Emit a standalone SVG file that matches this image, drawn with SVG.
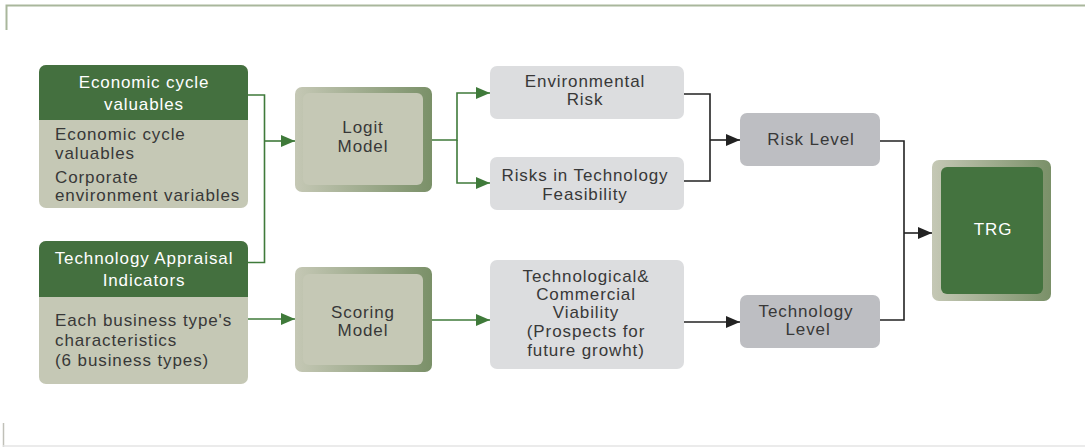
<svg xmlns="http://www.w3.org/2000/svg" width="1085" height="447" viewBox="0 0 1085 447">
<style>
text{font-family:"Liberation Sans",Arial,sans-serif;font-size:17px;letter-spacing:0.9px}
.hd{fill:#ffffff;text-anchor:middle}
.bd{fill:#383838}
.c{fill:#383838;text-anchor:middle}
.hdr{fill:#44703f}
.body{fill:#c5c8b5}
.lt{fill:#dcdddf}
.dk{fill:#bdbec2}
.g{fill:none;stroke:#3f7a3a;stroke-width:1.6}
.k{fill:none;stroke:#222;stroke-width:1.6}
</style>
<defs>
<marker id="ag" markerWidth="14" markerHeight="12" refX="14" refY="6" orient="auto" markerUnits="userSpaceOnUse"><path d="M0,0 L14,6 L0,12 Z" fill="#3f7a3a"/></marker>
<marker id="ak" markerWidth="14" markerHeight="12" refX="14" refY="6" orient="auto" markerUnits="userSpaceOnUse"><path d="M0,0 L14,6 L0,12 Z" fill="#222"/></marker>
<linearGradient id="frame" x1="0" y1="0" x2="1" y2="0"><stop offset="0" stop-color="#c5c8b5"/><stop offset="1" stop-color="#7a9068"/></linearGradient>
</defs>
<g id="frame-lines">
<path d="M6.5,30 V5.5 H1085" fill="none" stroke="#a9b79c" stroke-width="2"/>
<path d="M3.5,423 V447" fill="none" stroke="#c0c0b8" stroke-width="1.5"/>
<path d="M3,446 H1085" fill="none" stroke="#e4e4e4" stroke-width="1.5"/>
</g>
<g id="connectors">
<path class="g" d="M248,95 H264.5 V262.5 H248"/>
<path class="g" d="M264.5,141 H295" marker-end="url(#ag)"/>
<path class="g" d="M248,319 H295" marker-end="url(#ag)"/>
<path class="g" d="M432,140 H457 V93 H490" marker-end="url(#ag)"/>
<path class="g" d="M457,140 V183 H490" marker-end="url(#ag)"/>
<path class="g" d="M432,320 H490" marker-end="url(#ag)"/>
<path class="k" d="M684,94 H710 V181 H684"/>
<path class="k" d="M710,140 H740" marker-end="url(#ak)"/>
<path class="k" d="M684,322 H740" marker-end="url(#ak)"/>
<path class="k" d="M880,141 H904 V320 H880"/>
<path class="k" d="M904,233 H932" marker-end="url(#ak)"/>
</g>
<g id="economic">
<rect class="body" x="39" y="65" width="209" height="143" rx="7"/>
<path class="hdr" d="M39,120 V72 A7,7 0 0 1 46,65 H241 A7,7 0 0 1 248,72 V120 Z"/>
<text class="hd" x="144" y="88">Economic cycle</text>
<text class="hd" x="144" y="110">valuables</text>
<text class="bd" x="55" y="140">Economic cycle</text>
<text class="bd" x="55" y="159">valuables</text>
<text class="bd" x="55" y="183">Corporate</text>
<text class="bd" x="55" y="201">environment variables</text>
</g>
<g id="tech-appraisal">
<rect class="body" x="39" y="241" width="209" height="143" rx="7"/>
<path class="hdr" d="M39,297 V248 A7,7 0 0 1 46,241 H241 A7,7 0 0 1 248,248 V297 Z"/>
<text class="hd" x="144" y="264">Technology Appraisal</text>
<text class="hd" x="144" y="286">Indicators</text>
<text class="bd" x="55" y="326">Each business type's</text>
<text class="bd" x="55" y="346">characteristics</text>
<text class="bd" x="55" y="366">(6 business types)</text>
</g>
<g id="logit">
<rect x="295" y="87" width="137" height="105" rx="7" fill="url(#frame)"/>
<rect x="303" y="93" width="120" height="92" rx="6" fill="#c5c8b5"/>
<text class="c" x="363" y="133">Logit</text>
<text class="c" x="363" y="152">Model</text>
</g>
<g id="scoring">
<rect x="295" y="267" width="137" height="105" rx="7" fill="url(#frame)"/>
<rect x="303" y="274" width="120" height="91" rx="6" fill="#c5c8b5"/>
<text class="c" x="363" y="318">Scoring</text>
<text class="c" x="363" y="336">Model</text>
</g>
<g id="env-risk">
<rect class="lt" x="490" y="66" width="194" height="53" rx="7"/>
<text class="c" x="585" y="87">Environmental</text>
<text class="c" x="585" y="105">Risk</text>
</g>
<g id="tech-feasibility">
<rect class="lt" x="490" y="157" width="194" height="53" rx="7"/>
<text class="c" x="585" y="181">Risks in Technology</text>
<text class="c" x="585" y="200">Feasibility</text>
</g>
<g id="viability">
<rect class="lt" x="490" y="260" width="194" height="109" rx="7"/>
<text class="c" x="586" y="282">Technological&amp;</text>
<text class="c" x="586" y="300">Commercial</text>
<text class="c" x="586" y="318">Viability</text>
<text class="c" x="586" y="337">(Prospects for</text>
<text class="c" x="586" y="356">future growht)</text>
</g>
<g id="risk-level">
<rect class="dk" x="740" y="113" width="140" height="53" rx="7"/>
<text class="c" x="811" y="145">Risk Level</text>
</g>
<g id="tech-level">
<rect class="dk" x="740" y="295" width="140" height="53" rx="7"/>
<text class="c" x="806" y="317">Technology</text>
<text class="c" x="808" y="335">Level</text>
</g>
<g id="trg">
<rect x="932" y="160" width="119" height="141" rx="7" fill="url(#frame)"/>
<rect x="941" y="167" width="102" height="127" rx="6" fill="#44733f"/>
<text class="hd" x="993" y="235">TRG</text>
</g>
</svg>
